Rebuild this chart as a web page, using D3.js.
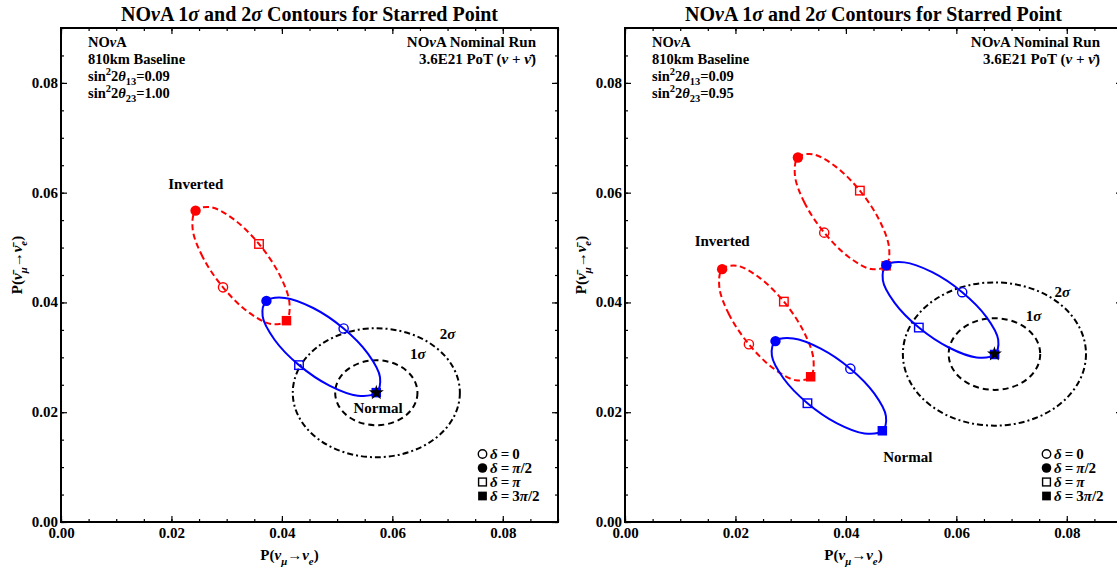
<!DOCTYPE html>
<html>
<head>
<meta charset="utf-8">
<script src="https://cdn.jsdelivr.net/npm/d3@7"></script>
<style>
body { margin: 0; background: #fff; }
text { font-family: "Liberation Serif", "Times New Roman", serif; font-weight: bold; fill: #000; }
</style>
</head>
<body>
<div id="chart"></div>
<script>
// tick values (both axes run 0 .. 0.09)
var majorTicks = [0, 0.02, 0.04, 0.06, 0.08];
var minorTicks = d3.range(0, 0.0901, 0.005);
var deltaNames = [[["δ", "i"], ["\u2009=\u20090"]],
                  [["δ", "i"], ["\u2009=\u2009"], ["π", "i"], ["/2"]],
                  [["δ", "i"], ["\u2009=\u2009"], ["π", "i"]],
                  [["δ", "i"], ["\u2009=\u20093"], ["π", "i"], ["/2"]]];
var markerKinds = ["circleOpen", "circleFilled", "squareOpen", "squareFilled"];

// oscillation curves, points every 30 deg of delta (index 0,3,6,9 = 0, pi/2, pi, 3pi/2)
var leftNormal = [[0.05118, 0.03526], [0.04567, 0.03899], [0.04055, 0.04083], [0.03720, 0.04028],
  [0.03651, 0.03749], [0.03867, 0.03321], [0.04310, 0.02858], [0.04861, 0.02485],
  [0.05373, 0.02302], [0.05709, 0.02357], [0.05777, 0.02636], [0.05561, 0.03063]];
var leftInverted = [[0.02934, 0.04275], [0.02566, 0.04829], [0.02384, 0.05340], [0.02437, 0.05672],
  [0.02710, 0.05735], [0.03131, 0.05513], [0.03586, 0.05065], [0.03954, 0.04511],
  [0.04136, 0.04000], [0.04083, 0.03668], [0.03810, 0.03605], [0.03389, 0.03827]];

var rightNormalUpper = [[0.06106, 0.04187], [0.05563, 0.04551], [0.05061, 0.04730], [0.04734, 0.04678],
  [0.04669, 0.04408], [0.04883, 0.03992], [0.05321, 0.03542], [0.05863, 0.03179],
  [0.06365, 0.02999], [0.06693, 0.03052], [0.06758, 0.03322], [0.06543, 0.03738]];
var rightNormalLower = [[0.04081, 0.02794], [0.03545, 0.03160], [0.03049, 0.03344], [0.02725, 0.03296],
  [0.02660, 0.03029], [0.02872, 0.02614], [0.03304, 0.02164], [0.03840, 0.01797],
  [0.04336, 0.01614], [0.04660, 0.01662], [0.04725, 0.01929], [0.04513, 0.02343]];
var rightInvertedUpper = [[0.03608, 0.05272], [0.03251, 0.05816], [0.03077, 0.06317], [0.03131, 0.06641],
  [0.03399, 0.06700], [0.03810, 0.06479], [0.04253, 0.06037], [0.04609, 0.05492],
  [0.04783, 0.04991], [0.04729, 0.04667], [0.04461, 0.04608], [0.04050, 0.04829]];
var rightInvertedLower = [[0.02244, 0.03238], [0.01885, 0.03780], [0.01708, 0.04281], [0.01759, 0.04607],
  [0.02024, 0.04669], [0.02433, 0.04453], [0.02877, 0.04015], [0.03235, 0.03472],
  [0.03412, 0.02971], [0.03362, 0.02646], [0.03096, 0.02583], [0.02687, 0.02799]];

// starred point and its 1 sigma / 2 sigma half widths [dx, dy]
var leftStar = [0.0571, 0.02355];
var leftSigmas = [[0.00745, 0.00592], [0.01513, 0.01175]];
var rightStar = [0.0669, 0.0306];
var rightSigmas = [[0.00829, 0.00653], [0.01658, 0.01305]];

// labels placed in data coordinates
var leftLabels = [["Inverted", 0.0244, 0.0617], ["Normal", 0.0574, 0.0208], ["1σ", 0.0646, 0.0297], ["2σ", 0.0700, 0.0333]];
var rightLabels = [["Inverted", 0.0176, 0.0512], ["Normal", 0.0512, 0.0118], ["1σ", 0.0740, 0.0366], ["2σ", 0.0792, 0.0410]];

var W = 1117, H = 569;
var svg = d3.select("#chart").append("svg")
    .attr("width", W)
    .attr("height", H);

// write a line made of plain / italic / sub / sup pieces
function rich(sel, parts, size) {
    var shift = 0;
    parts.forEach(function(p) {
        var kind = p[1] || "";
        var target = 0, fs = size;
        if (kind.indexOf("sub") >= 0) { target = size * 0.3; fs = size * 0.72; }
        if (kind.indexOf("sup") >= 0) { target = -size * 0.4; fs = size * 0.72; }
        var t = sel.append("tspan").text(p[0])
            .attr("dy", target - shift)
            .style("font-size", fs + "px");
        if (kind.indexOf("i") >= 0) t.style("font-style", "italic");
        shift = target;
    });
    return sel;
}

function drawPanel(p) {
    var width = 497, height = 494;
    var g = svg.append("g").attr("transform", "translate(" + p.left + "," + p.top + ")");

    var x = d3.scaleLinear().domain([0, 0.09]).range([0, width]);
    var y = d3.scaleLinear().domain([0, 0.09]).range([height, 0]);

    // ticks on all four sides, pointing inward
    var fmt = d3.format(".2f");
    g.append("g").attr("transform", "translate(0," + height + ")")
        .call(d3.axisBottom(x).tickValues(minorTicks).tickSize(-3).tickSizeOuter(0).tickFormat(""));
    g.append("g").attr("class", "xlab").attr("transform", "translate(0," + height + ")")
        .call(d3.axisBottom(x).tickValues(majorTicks).tickSize(-6).tickSizeOuter(0).tickPadding(3).tickFormat(fmt));
    g.append("g")
        .call(d3.axisTop(x).tickValues(minorTicks).tickSize(-3).tickSizeOuter(0).tickFormat(""));
    g.append("g")
        .call(d3.axisTop(x).tickValues(majorTicks).tickSize(-6).tickSizeOuter(0).tickFormat(""));
    g.append("g")
        .call(d3.axisLeft(y).tickValues(minorTicks).tickSize(-3).tickSizeOuter(0).tickFormat(""));
    g.append("g").attr("class", "ylab")
        .call(d3.axisLeft(y).tickValues(majorTicks).tickSize(-6).tickSizeOuter(0).tickPadding(3).tickFormat(fmt));
    g.append("g").attr("transform", "translate(" + width + ",0)")
        .call(d3.axisRight(y).tickValues(minorTicks).tickSize(-3).tickSizeOuter(0).tickFormat(""));
    g.append("g").attr("transform", "translate(" + width + ",0)")
        .call(d3.axisRight(y).tickValues(majorTicks).tickSize(-6).tickSizeOuter(0).tickFormat(""));
    g.selectAll(".domain").remove();
    g.selectAll(".tick line").attr("stroke", "#000").attr("stroke-width", 1.2);
    g.selectAll(".xlab text, .ylab text")
        .style("font-family", "Liberation Serif, serif")
        .style("font-weight", "bold")
        .style("font-size", "15px")
        .attr("fill", "#000");
    g.selectAll(".xlab text").attr("dy", "0.85em");
    g.selectAll(".ylab text").attr("dy", "0.3em");

    g.append("rect")
        .attr("width", width).attr("height", height)
        .attr("fill", "none").attr("stroke", "#000").attr("stroke-width", 2);

    // title and axis labels
    rich(g.append("text").attr("x", width / 2).attr("y", -7).attr("text-anchor", "middle"),
        [["NO"], ["ν", "i"], ["A 1"], ["σ", "i"], [" and 2"], ["σ", "i"], [" Contours for Starred Point"]], 20);
    rich(g.append("text").attr("x", width / 2 - 20).attr("y", height + 38).attr("text-anchor", "middle"),
        [["P("], ["ν", "i"], ["μ", "isub"], ["→"], ["ν", "i"], ["e", "isub"], [")"]], 15);
    rich(g.append("text").attr("transform", "translate(-39," + (height / 2 - 10) + ") rotate(-90)").attr("text-anchor", "middle"),
        [["P("], ["ν̄", "i"], ["μ", "isub"], ["→"], ["ν̄", "i"], ["e", "isub"], [")"]], 15);

    // info blocks
    var info = [[["NO"], ["ν", "i"], ["A"]],
                [["810km Baseline"]],
                [["sin"], ["2", "sup"], ["2"], ["θ", "i"], ["13", "sub"], ["=0.09"]],
                [["sin"], ["2", "sup"], ["2"], ["θ", "i"], ["23", "sub"], ["=" + p.s23]]];
    var infoY = [19, 35.5, 53, 70];
    info.forEach(function(line, i) {
        rich(g.append("text").attr("x", 27).attr("y", infoY[i]), line, 14.5);
    });
    rich(g.append("text").attr("x", width - 22).attr("y", 19).attr("text-anchor", "end"),
        [["NO"], ["ν", "i"], ["A Nominal Run"]], 15);
    rich(g.append("text").attr("x", width - 22).attr("y", 36).attr("text-anchor", "end"),
        [["3.6E21 PoT ("], ["ν", "i"], [" + "], ["ν̄", "i"], [")"]], 15);

    // 1 sigma and 2 sigma contours round the starred point
    g.selectAll(".sigma").data(p.sigmas).enter().append("ellipse")
        .attr("class", "sigma")
        .attr("cx", x(p.star[0]))
        .attr("cy", y(p.star[1]))
        .attr("rx", function(d) { return x(p.star[0] + d[0]) - x(p.star[0]); })
        .attr("ry", function(d) { return y(p.star[1]) - y(p.star[1] + d[1]); })
        .attr("fill", "none")
        .attr("stroke", "#000")
        .attr("stroke-width", 2)
        .attr("stroke-dasharray", function(d, i) { return i === 0 ? "6,4" : "6,3,2,3"; });

    var line = d3.line()
        .x(function(d) { return x(d[0]); })
        .y(function(d) { return y(d[1]); })
        .curve(d3.curveCatmullRomClosed.alpha(0.5));

    p.curves.forEach(function(c) {
        g.append("path")
            .datum(c.pts)
            .attr("d", line)
            .attr("fill", "none")
            .attr("stroke", c.color)
            .attr("stroke-width", 2)
            .attr("stroke-dasharray", c.dashed ? "6,3.5" : null);
    });

    // delta markers
    p.curves.forEach(function(c) {
        [0, 3, 6, 9].forEach(function(idx, k) {
            drawMarker(g, markerKinds[k], x(c.pts[idx][0]), y(c.pts[idx][1]), c.color, 1);
        });
    });

    g.append("path")
        .attr("d", d3.symbol().type(d3.symbolStar).size(70)())
        .attr("transform", "translate(" + x(p.star[0]) + "," + y(p.star[1]) + ")")
        .attr("fill", "#000");

    g.selectAll(".lab").data(p.labels).enter().append("text")
        .attr("class", "lab")
        .attr("x", function(d) { return x(d[1]); })
        .attr("y", function(d) { return y(d[2]); })
        .attr("dy", "0.35em")
        .attr("text-anchor", "middle")
        .style("font-size", "15px")
        .each(function(d) {
            var s = d[0];
            if (s.indexOf("σ") > 0) rich(d3.select(this), [[s.charAt(0)], ["σ", "i"]], 15);
            else d3.select(this).text(s);
        });

    // legend
    var legY = [426, 440, 454, 468];
    deltaNames.forEach(function(parts, k) {
        drawMarker(g, markerKinds[k], 421.5, legY[k], "#000", 0.92);
        rich(g.append("text").attr("x", 429).attr("y", legY[k] + 5), parts, 15);
    });
}

function drawMarker(g, kind, cx, cy, color, scale) {
    if (kind.indexOf("circle") === 0) {
        var open = kind === "circleOpen";
        g.append("circle")
            .attr("cx", cx).attr("cy", cy)
            .attr("r", (open ? 4.6 : 5.2) * scale)
            .attr("fill", open ? "none" : color)
            .attr("stroke", color)
            .attr("stroke-width", open ? 1.4 : 0);
    } else {
        var open2 = kind === "squareOpen";
        var s = (open2 ? 8.5 : 9.5) * scale;
        g.append("rect")
            .attr("x", cx - s / 2).attr("y", cy - s / 2)
            .attr("width", s).attr("height", s)
            .attr("fill", open2 ? "none" : color)
            .attr("stroke", color)
            .attr("stroke-width", open2 ? 1.4 : 0);
    }
}

drawPanel({
    left: 61, top: 28, s23: "1.00",
    star: leftStar, sigmas: leftSigmas, labels: leftLabels,
    curves: [
        {pts: leftInverted, color: "#ff0000", dashed: true},
        {pts: leftNormal, color: "#0000ff", dashed: false}
    ]
});

drawPanel({
    left: 625, top: 28, s23: "0.95",
    star: rightStar, sigmas: rightSigmas, labels: rightLabels,
    curves: [
        {pts: rightInvertedUpper, color: "#ff0000", dashed: true},
        {pts: rightInvertedLower, color: "#ff0000", dashed: true},
        {pts: rightNormalUpper, color: "#0000ff", dashed: false},
        {pts: rightNormalLower, color: "#0000ff", dashed: false}
    ]
});
</script>
</body>
</html>
